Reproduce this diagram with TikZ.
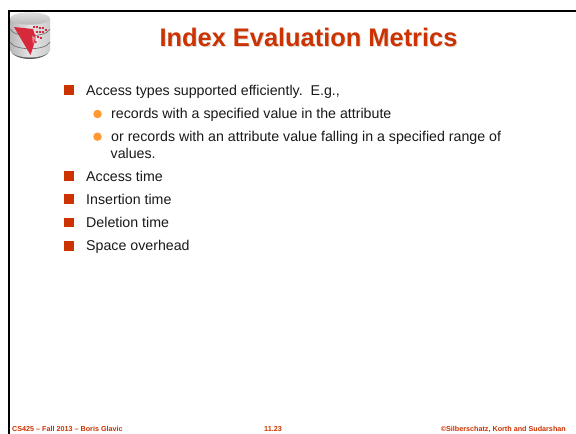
\documentclass[tikz,border=0pt]{standalone}
\usepackage{fontspec}
\setmainfont{Liberation Sans}
\definecolor{slidered}{HTML}{CC3300}
\definecolor{dotorange}{HTML}{FF9933}
\definecolor{logored}{HTML}{D8283C}
\tikzset{
  body/.style={anchor=base west,inner sep=0pt,font=\fontsize{14.2}{16}\selectfont,text=black!90},
  foot/.style={inner sep=0pt,anchor=base,font=\fontsize{7.2}{8}\selectfont\bfseries,text=slidered},
  sq/.style={fill=slidered,draw=none,minimum size=9.5pt,inner sep=0pt},
  dot/.style={fill=dotorange,draw=none,circle,minimum size=8.5pt,inner sep=0pt},
  disc/.style={draw=black!55,line width=.7pt}
}
\begin{document}
\begin{tikzpicture}[x=1pt,y=-1pt]
\useasboundingbox (0,0) rectangle (576,434);
\fill[white] (0,0) rectangle (576,434);
\fill[black] (7.5,9.5) rectangle (576,11.5);
\fill[black] (7.5,9.5) rectangle (10,434);
% logo
\shade[top color=black!45,bottom color=black!75] (10,50) .. controls (14,62) and (46,62) .. (50,50) -- cycle;
\shade[left color=black!28,right color=black!20,middle color=black!10] (10,18) -- (10,50) .. controls (14,60) and (46,60) .. (50,50) -- (50,18) -- cycle;
\shade[top color=black!12,bottom color=black!28] (30,18.5) ellipse[x radius=20,y radius=6.2];
\draw[disc] (10,29) .. controls (14,38) and (46,38) .. (50,29);
\draw[disc] (10,42) .. controls (14,51) and (46,51) .. (50,42);
\fill[logored] (14,27) -- (33,29) -- (36,38) -- (30.5,55) -- cycle;
\foreach \a/\b in {34/27,37/27,40/28,43/28,40/32,43/32,46/30,37/32,38/37,41/38,36/42}
  \fill[logored] (\a-1,\b-1) rectangle (\a+1,\b+1);
\fill[white,opacity=.45] (32,36) -- (33,44) -- (35,38) -- (37,44) -- (38,38) -- cycle;
% title
\node[inner sep=0pt,anchor=base,font=\fontsize{25.4}{28}\selectfont\bfseries,text=black!18,opacity=.8] (titleshadow) at (309.5,47.5) {Index Evaluation Metrics};
\node[inner sep=0pt,anchor=base,font=\fontsize{25.4}{28}\selectfont\bfseries,text=slidered] (title) at (308.5,46.5) {Index Evaluation Metrics};
% bullets
\node[sq] (b1) at (69,90) {};
\node[dot] (d1) at (97.5,114) {};
\node[dot] (d2) at (97.5,136.7) {};
\node[sq] (b2) at (69,176) {};
\node[sq] (b3) at (69,199) {};
\node[sq] (b4) at (69,222.5) {};
\node[sq] (b5) at (69,246) {};
\node[body] (t1) at (86,95) {Access types supported efficiently.\ \ E.g.,};
\node[body] (t2) at (111,118.3) {records with a specified value in the attribute};
\node[body] (t3) at (111,141.7) {or records with an attribute value falling in a specified range of};
\node[body] (t3b) at (110.5,158) {values.};
\node[body] (t4) at (86,181) {Access time};
\node[body] (t5) at (86,204) {Insertion time};
\node[body] (t6) at (86,227.3) {Deletion time};
\node[body] (t7) at (86,250.5) {Space overhead};
% footer
\node[foot,anchor=base west] (f1) at (12,431.5) {CS425 -- Fall 2013 -- Boris Glavic};
\node[foot] (f2) at (273,431.5) {11.23};
\node[foot,anchor=base east] (f3) at (566,431.5) {©Silberschatz, Korth and Sudarshan};
\end{tikzpicture}
\end{document}
